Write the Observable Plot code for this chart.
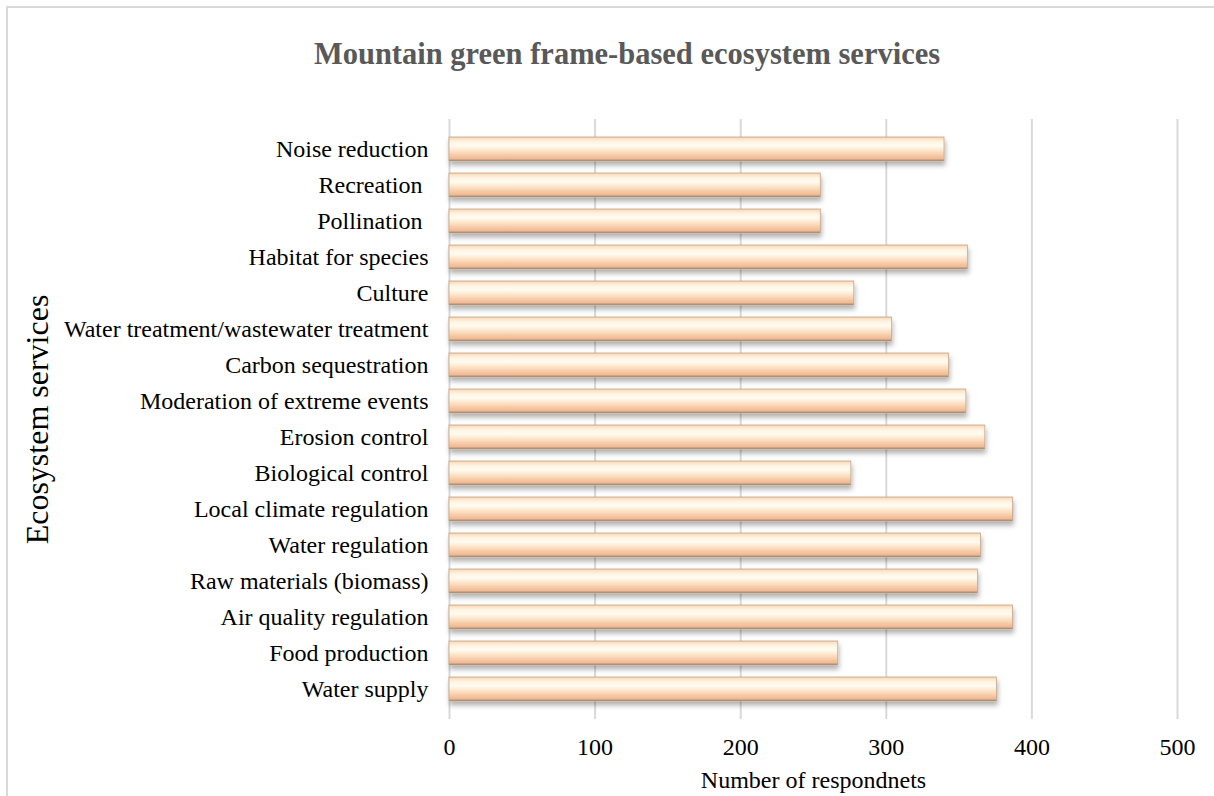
<!DOCTYPE html>
<html>
<head>
<meta charset="utf-8">
<script src="https://cdn.jsdelivr.net/npm/d3@7"></script>
<script src="https://cdn.jsdelivr.net/npm/@observablehq/plot@0.6"></script>
<style>
  html, body { margin: 0; padding: 0; background: #fff; }
  #wrap { position: relative; width: 1214px; height: 796px; overflow: hidden; font-family: "Liberation Serif", "Times New Roman", serif; }
  #frame { position: absolute; left: 6px; top: 6px; width: 1300px; height: 900px; border-top: 2px solid #d9d9d9; border-left: 2px solid #d9d9d9; box-sizing: border-box; }
  #title { position: absolute; left: 0; top: 0; width: 1254px; height: 100px; line-height: 108px; text-align: center; font-weight: bold; font-size: 30.5px; color: #595959; }
  #chart { position: absolute; left: 0; top: 100px; }
</style>
</head>
<body>
<div id="wrap">
  <div id="frame"></div>
  <div id="title">Mountain green frame-based ecosystem services</div>
  <div id="chart"></div>
</div>
<script>
// Categories listed top to bottom as in the chart
const categories = [
  "Noise reduction",
  "Recreation\u00a0",
  "Pollination\u00a0",
  "Habitat for species",
  "Culture",
  "Water treatment/wastewater treatment",
  "Carbon sequestration",
  "Moderation of extreme events",
  "Erosion control",
  "Biological control",
  "Local climate regulation",
  "Water regulation",
  "Raw materials (biomass)",
  "Air quality regulation",
  "Food production",
  "Water supply"
];
const respondents = [340, 255, 255, 356, 278, 304, 343, 355, 368, 276, 387, 365, 363, 387, 267, 376];
const xTicks = [0, 100, 200, 300, 400, 500];

const data = categories.map((c, i) => ({service: c, value: respondents[i]}));

const plot = Plot.plot({
  width: 1214,
  height: 696,
  marginTop: 19,
  marginBottom: 77,
  marginLeft: 449,
  marginRight: 37,
  style: {fontFamily: "'Liberation Serif', 'Times New Roman', serif", fontSize: "24px", color: "#000", background: "transparent", overflow: "visible"},
  x: {domain: [0, 500], ticks: xTicks, label: "Number of respondnets", labelArrow: "none", labelAnchor: "center", labelOffset: 68, tickSize: 0, tickPadding: 19},
  y: {domain: categories, padding: 0.33, label: "Ecosystem services", labelArrow: "none", labelAnchor: "center", labelOffset: 424, tickSize: 0, tickPadding: 21},
  marks: [
    Plot.gridX(xTicks, {stroke: "#d9d9d9", strokeWidth: 2, strokeOpacity: 1}),
    Plot.barX(data, {x: "value", y: "service", fill: "url(#barGrad)", stroke: "#c9a586", strokeWidth: 0.8, className: "bars"}),
    Plot.axisX({ticks: xTicks, tickSize: 0, tickPadding: 18, fontSize: 24, label: "Number of respondnets", labelArrow: "none", labelAnchor: "center", labelOffset: 68}),
    Plot.axisY({tickSize: 0, tickPadding: 21, fontSize: 24, label: "Ecosystem services", labelArrow: "none", labelAnchor: "center", labelOffset: 424})
  ]
});

// gradient + shadow definitions
const svg = d3.select(plot);
const defs = svg.insert("defs", ":first-child");
const g = defs.append("linearGradient").attr("id", "barGrad").attr("x1", 0).attr("y1", 0).attr("x2", 0).attr("y2", 1);
[["0%", "#efcaa6"], ["6%", "#fbe1c5"], ["22%", "#fff6e6"], ["38%", "#fffbf0"], ["58%", "#fde3c8"], ["80%", "#f6c6a1"], ["91%", "#eeb993"], ["96%", "#b39680"], ["100%", "#8a715e"]]
  .forEach(([o, c]) => g.append("stop").attr("offset", o).attr("stop-color", c));
const f = defs.append("filter").attr("id", "barShadow").attr("x", "-5%").attr("y", "-30%").attr("width", "110%").attr("height", "190%");
f.append("feDropShadow").attr("dx", 1).attr("dy", 4).attr("stdDeviation", 2.5).attr("flood-color", "#000").attr("flood-opacity", 0.3);
svg.selectAll("g.bars").attr("filter", "url(#barShadow)");
svg.selectAll("text").attr("fill", "#000");
svg.selectAll("g[aria-label='y-axis label'] text").style("font-size", "32px");

document.getElementById("chart").appendChild(plot);
</script>
</body>
</html>
